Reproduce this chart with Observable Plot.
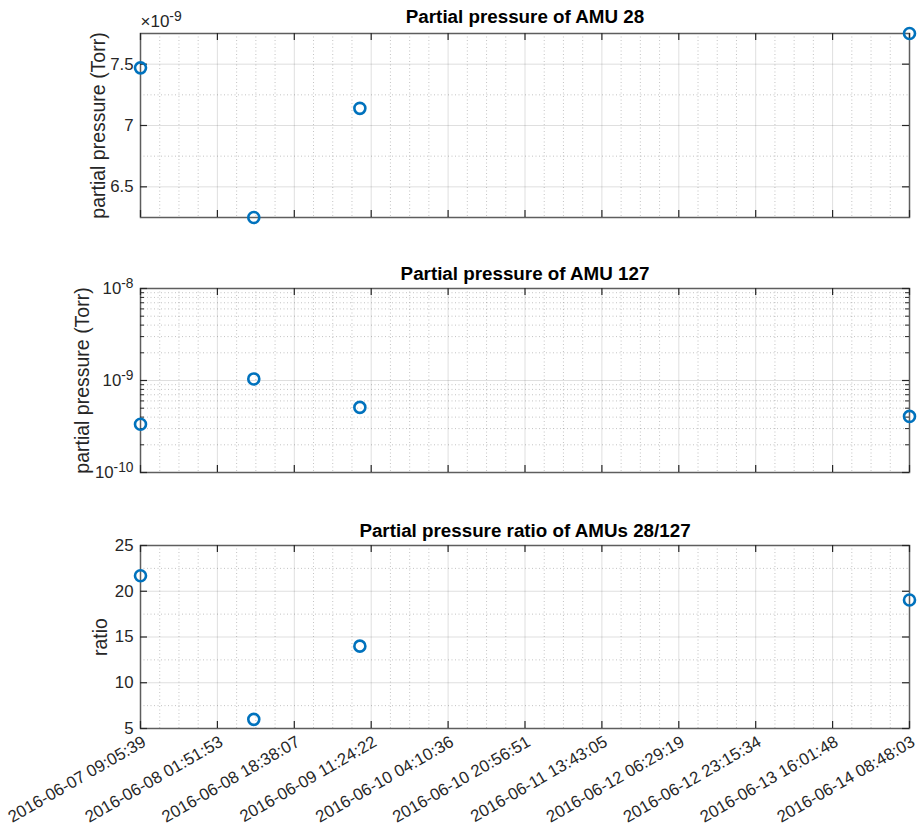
<!DOCTYPE html>
<html><head><meta charset="utf-8">
<script src="https://cdn.jsdelivr.net/npm/d3@7"></script>
<script src="https://cdn.jsdelivr.net/npm/@observablehq/plot@0.6"></script>
<style>
body{margin:0;background:#fff;}
#chart{position:relative;width:921px;height:832px;}
#chart svg{position:absolute;left:0;overflow:visible;}
</style></head><body><div id="chart"></div>
<script>
// ---- data ----
const sampleTimes = ["2016-06-07 09:05:39", "2016-06-08 09:48:00", "2016-06-09 08:56:00", "2016-06-14 08:48:03"];
const amu28 = [7.47e-9, 6.25e-9, 7.14e-9, 7.75e-9];
const amu127 = [3.35e-10, 1.04e-9, 5.1e-10, 4.07e-10];
const ratio = [21.7, 6.0, 14.0, 19.05];
const xTickLabels = ["2016-06-07 09:05:39", "2016-06-08 01:51:53", "2016-06-08 18:38:07", "2016-06-09 11:24:22",
  "2016-06-10 04:10:36", "2016-06-10 20:56:51", "2016-06-11 13:43:05", "2016-06-12 06:29:19",
  "2016-06-12 23:15:34", "2016-06-13 16:01:48", "2016-06-14 08:48:03"];
const amu28Ticks = [6.5e-9, 7e-9, 7.5e-9];
const amu28Minor = [6.25e-9, 6.75e-9, 7.25e-9, 7.75e-9];
const amu127Ticks = [1e-10, 1e-9, 1e-8];
const ratioTicks = [5, 10, 15, 20, 25];
const ratioMinor = [7.5, 12.5, 17.5, 22.5];
const titles = ["Partial pressure of AMU 28", "Partial pressure of AMU 127", "Partial pressure ratio of AMUs 28/127"];
const yLabels = ["partial pressure (Torr)", "partial pressure (Torr)", "ratio"];
const exponentLabel = "\u00d710^-9";

// ---- derived ----
const parse = d3.utcParse("%Y-%m-%d %H:%M:%S");
const fmt = d3.utcFormat("%Y-%m-%d %H:%M:%S");
const rows = sampleTimes.map((t, i) => ({time: parse(t), amu28: amu28[i], amu127: amu127[i], ratio: ratio[i]}));
const xTicks = xTickLabels.map(parse);
const xMinor = [];
for (let i = 0; i < xTicks.length - 1; i++) {
  const a = +xTicks[i], b = +xTicks[i + 1];
  for (let k = 1; k < 4; k++) xMinor.push(new Date(a + (b - a) * k / 4));
}
const logMinor = [];
for (const e of [1e-10, 1e-9]) for (let m = 2; m <= 9; m++) logMinor.push(m * e);
const xDomain = d3.extent(rows, d => d.time);

const W = 921, ML = 140, MR = 12;
const FONT = '"Liberation Sans", Arial, Helvetica, sans-serif';
const AX = "#262626";
const frameColor = "#5e5e5e";
const hasAxisMark = typeof Plot.axisX === "function";

function panel({top, height, mt, mb, yScale, yField, yTicks, yMinor, yMinorTicks, title, titleDy, ylabel, ylabelDx, showX, extra = []}) {
  const fh = height - mt - mb;
  const fw = W - ML - MR;
  const useXMark = showX && hasAxisMark;
  const marks = [
    Plot.ruleX(xMinor, {stroke: AX, strokeOpacity: 0.28, strokeDasharray: "1,2.5"}),
    Plot.ruleY(yMinor, {stroke: AX, strokeOpacity: 0.28, strokeDasharray: "1,2.5"}),
    Plot.ruleX(xTicks, {stroke: AX, strokeOpacity: 0.15}),
    Plot.ruleY(yTicks, {stroke: AX, strokeOpacity: 0.15}),
    Plot.frame({stroke: frameColor, strokeWidth: 1.5}),
    Plot.tickX(xTicks, {insetTop: fh - 7, stroke: AX, strokeWidth: 1.2}),
    Plot.tickX(xTicks, {insetBottom: fh - 7, stroke: AX, strokeWidth: 1.2}),
    Plot.tickY(yTicks, {insetRight: fw - 7, stroke: AX, strokeWidth: 1.2}),
    Plot.tickY(yTicks, {insetLeft: fw - 7, stroke: AX, strokeWidth: 1.2}),
    ...(yMinorTicks ? [
      Plot.tickY(yMinorTicks, {insetRight: fw - 4, stroke: AX, strokeWidth: 1}),
      Plot.tickY(yMinorTicks, {insetLeft: fw - 4, stroke: AX, strokeWidth: 1})
    ] : []),
    ...(useXMark ? [Plot.axisX({ticks: xTicks, tickFormat: fmt, tickRotate: -30, tickSize: 0, tickPadding: 12, dx: 4, label: null, fontSize: 16.8})] : []),
    Plot.dot(rows, {x: "time", y: yField, r: 5.5, stroke: "#0072BD", strokeWidth: 2.6, fill: "none"}),
    Plot.text([title], {frameAnchor: "top", lineAnchor: "middle", dy: titleDy, fontWeight: "bold", fontSize: 18.8, fill: "#000"}),
    Plot.text([ylabel], {frameAnchor: "left", textAnchor: "middle", lineAnchor: "middle", rotate: -90, dx: ylabelDx, fontSize: 19.5, fill: AX}),
    ...extra
  ];
  const svg = Plot.plot({
    width: W, height, marginLeft: ML, marginRight: MR, marginTop: mt, marginBottom: mb,
    style: {fontFamily: FONT, fontSize: "16.8px", color: AX, background: "transparent"},
    x: showX && !useXMark
      ? {type: "utc", domain: xDomain, ticks: xTicks, tickFormat: fmt, tickRotate: -30, tickSize: 0, tickPadding: 12, label: null}
      : {type: "utc", domain: xDomain, axis: null},
    y: {...yScale, tickSize: 0, tickPadding: 7, label: null},
    marks
  });
  svg.style.top = top + "px";
  // superscript exponents like 10^-9
  d3.select(svg).selectAll("text").each(function () {
    if (this.querySelector("tspan")) return;
    const m = /^(.*?10)\^(-?\d+)$/.exec(this.textContent);
    if (!m) return;
    this.textContent = m[1];
    d3.select(this).append("tspan").attr("dy", "-0.45em").attr("font-size", "0.82em").text(m[2]);
  });
  document.getElementById("chart").appendChild(svg);
}

panel({
  top: 0, height: 240, mt: 33, mb: 23,
  yScale: {domain: d3.extent(amu28), ticks: amu28Ticks, tickFormat: d => String(+(d * 1e9).toFixed(2))},
  yField: "amu28", yTicks: amu28Ticks, yMinor: amu28Minor,
  title: titles[0], titleDy: -17, ylabel: yLabels[0], ylabelDx: -42,
  showX: false,
  extra: [Plot.text([exponentLabel], {frameAnchor: "top-left", textAnchor: "start", lineAnchor: "middle", dy: -12, fontSize: 17, fill: AX})]
});

panel({
  top: 250, height: 230, mt: 38, mb: 8,
  yScale: {type: "log", domain: [amu127Ticks[0], amu127Ticks[2]], ticks: amu127Ticks, tickFormat: d => "10^" + Math.round(Math.log10(d))},
  yField: "amu127", yTicks: amu127Ticks, yMinor: logMinor, yMinorTicks: logMinor,
  title: titles[1], titleDy: -15, ylabel: yLabels[1], ylabelDx: -58,
  showX: false
});

panel({
  top: 500, height: 332, mt: 45, mb: 104,
  yScale: {domain: [ratioTicks[0], ratioTicks[ratioTicks.length - 1]], ticks: ratioTicks},
  yField: "ratio", yTicks: ratioTicks, yMinor: ratioMinor,
  title: titles[2], titleDy: -15, ylabel: yLabels[2], ylabelDx: -40,
  showX: true
});
</script></body></html>
